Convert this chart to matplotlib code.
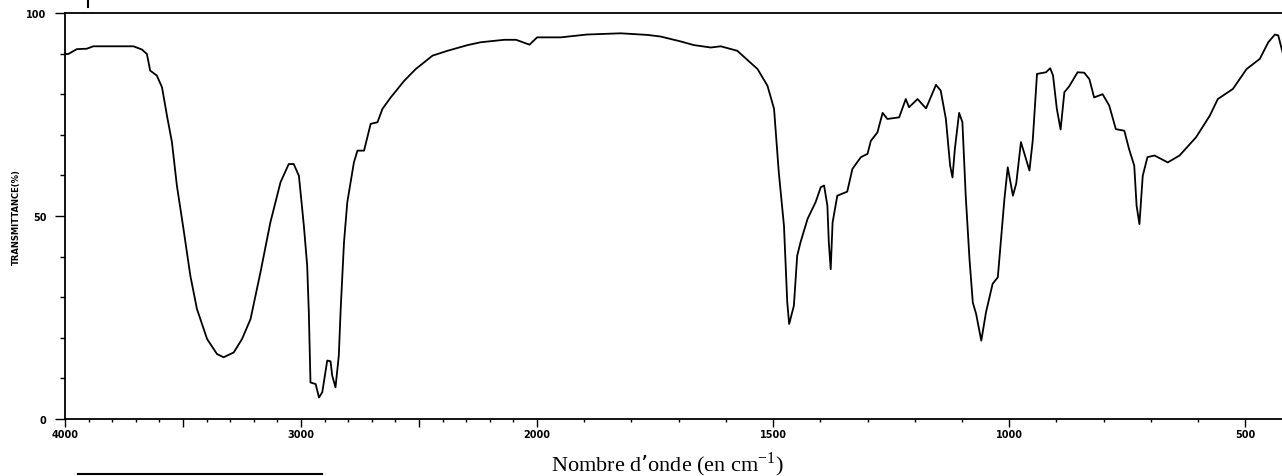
import numpy as np
import matplotlib
matplotlib.use("Agg")
import matplotlib.pyplot as plt
from matplotlib.lines import Line2D
from matplotlib.ticker import FixedLocator, FixedFormatter

# IR spectrum: wavenumber (cm-1) and transmittance (%)
wavenumber = [4000, 3986, 3950, 3908, 3880, 3710, 3674, 3653, 3639, 3611,
              3589, 3568, 3547, 3526, 3498, 3469, 3441, 3398, 3356, 3328,
              3285, 3250, 3214, 3172, 3130, 3087, 3052, 3031, 3009, 2988,
              2974, 2967, 2960, 2938, 2924, 2910, 2889, 2875, 2868, 2854,
              2840, 2832, 2818, 2804, 2776, 2761, 2733, 2705, 2676, 2655,
              2620, 2563, 2514, 2443, 2379, 2294, 2238, 2139, 2089, 2032,
              2000, 1950, 1894, 1823, 1766, 1738, 1696, 1668, 1632, 1611,
              1576, 1533, 1512, 1498, 1488, 1477, 1470, 1466, 1456, 1449,
              1442, 1427, 1410, 1399, 1392, 1385, 1382, 1378, 1374, 1364,
              1343, 1332, 1314, 1300, 1293, 1279, 1268, 1258, 1233, 1219,
              1212, 1194, 1176, 1155, 1145, 1134, 1125, 1120, 1115, 1106,
              1099, 1092, 1084, 1077, 1070, 1059, 1049, 1035, 1024, 1010,
              1003, 992, 985, 975, 957, 950, 941, 922, 913, 907,
              899, 891, 883, 873, 855, 841, 830, 820, 802, 788,
              774, 756, 746, 735, 730, 724, 717, 707, 692, 664,
              639, 604, 575, 558, 526, 497, 469, 451, 437, 430, 419]
transmittance = [89.9, 89.9, 91.1, 91.2, 91.8, 91.8, 91.0, 89.9, 85.8, 84.6,
                 81.7, 74.7, 68.2, 57.5, 46.8, 35.3, 27.1, 19.7, 16.0, 15.2,
                 16.4, 19.7, 24.6, 36.1, 48.4, 58.3, 62.8, 62.8, 59.9, 47.6,
                 37.8, 26.3, 9.0, 8.6, 5.3, 6.6, 14.4, 14.2, 10.7, 7.8,
                 15.6, 27.1, 43.5, 53.4, 63.2, 66.1, 66.1, 72.7, 73.1, 76.4,
                 79.2, 83.3, 86.2, 89.5, 90.7, 92.1, 92.8, 93.4, 93.4, 92.2,
                 94.0, 94.0, 94.7, 95.0, 94.6, 94.2, 93.0, 92.1, 91.5, 91.8,
                 90.7, 86.2, 82.1, 76.4, 60.8, 47.6, 28.7, 23.4, 27.9, 40.2,
                 43.5, 49.3, 53.4, 57.1, 57.5, 52.5, 43.5, 36.9, 48.4, 55.0,
                 56.0, 61.6, 64.5, 65.3, 68.5, 70.6, 75.4, 73.9, 74.3, 78.8,
                 76.8, 78.8, 76.5, 82.3, 80.9, 73.9, 62.4, 59.5, 66.5, 75.4,
                 73.1, 55.0, 39.4, 28.7, 25.9, 19.3, 26.3, 33.3, 34.9, 54.2,
                 62.0, 55.0, 58.0, 68.2, 61.2, 68.6, 85.0, 85.4, 86.4, 84.6,
                 76.4, 71.3, 80.5, 81.9, 85.4, 85.3, 83.7, 79.2, 80.0, 77.2,
                 71.4, 71.0, 66.5, 62.4, 52.5, 48.0, 59.9, 64.5, 64.9, 63.2,
                 64.9, 69.4, 74.7, 78.8, 81.3, 86.2, 88.7, 92.8, 94.7, 94.5, 89.5]

major_x = [4000, 3500, 3000, 2500, 2000, 1500, 1000, 500]
major_x_labels = ['4000', '', '3000', '', '2000', '1500', '1000', '500']
major_y = [0, 50, 100]
major_y_labels = ['0', '50', '100']


# chart scale doubles below 2000 cm-1
def fwd(w):
    w = np.asarray(w, dtype=float)
    return np.where(w <= 2000, 2 * w, w + 2000)


def inv(u):
    u = np.asarray(u, dtype=float)
    return np.where(u <= 4000, u / 2, u - 2000)


W, H = 1282, 477
fig = plt.figure(figsize=(W / 100, H / 100), dpi=100)
ax = fig.add_axes([65 / W, 57 / H, 1 - 65 / W, 406 / H])

ax.plot(wavenumber, transmittance, color='black', lw=1.3)

ax.set_xscale('function', functions=(fwd, inv))
ax.set_xlim(4000, 422)
ax.set_ylim(0, 100)

minor_x = [v for v in range(4000, 400, -100) if v not in major_x]
ax.xaxis.set_major_locator(FixedLocator(major_x))
ax.xaxis.set_major_formatter(FixedFormatter(major_x_labels))
ax.xaxis.set_minor_locator(FixedLocator(minor_x))
ax.yaxis.set_major_locator(FixedLocator(major_y))
ax.yaxis.set_major_formatter(FixedFormatter(major_y_labels))
ax.yaxis.set_minor_locator(FixedLocator(range(10, 100, 10)))

ax.spines['right'].set_visible(False)
for s in ['left', 'bottom', 'top']:
    ax.spines[s].set_linewidth(1.3)

ax.tick_params(axis='x', which='major', length=5.5, width=1, pad=2,
               labelsize=7, direction='out')
ax.tick_params(axis='x', which='minor', length=2.5, width=1, direction='out')
ax.tick_params(axis='y', which='major', length=7.2, width=1, pad=6,
               labelsize=7, direction='out')
ax.tick_params(axis='y', which='minor', length=3.6, width=1, direction='out')
for lab in ax.get_xticklabels() + ax.get_yticklabels():
    lab.set_fontweight('bold')

ax.set_ylabel('TRANSMITTANCE(%)', fontsize=6, fontweight='bold')
ax.yaxis.set_label_coords(-0.036, 0.5)

ax.set_xlabel('Nombre d’onde (en cm$^{\\mathregular{-1}}$)',
              family='Liberation Serif', fontsize=16)
ax.xaxis.label.set_verticalalignment('baseline')
ax.xaxis.set_label_coords(0.4947, -0.1256)

# separator line at bottom left and the cut mark at the top
fig.add_artist(Line2D([78 / W, 322 / W], [2 / H, 2 / H], color='black', lw=1.5))
fig.add_artist(Line2D([88 / W, 88 / W], [1, 1 - 8 / H], color='black', lw=1.5))

fig.savefig('out.png', dpi=100)
